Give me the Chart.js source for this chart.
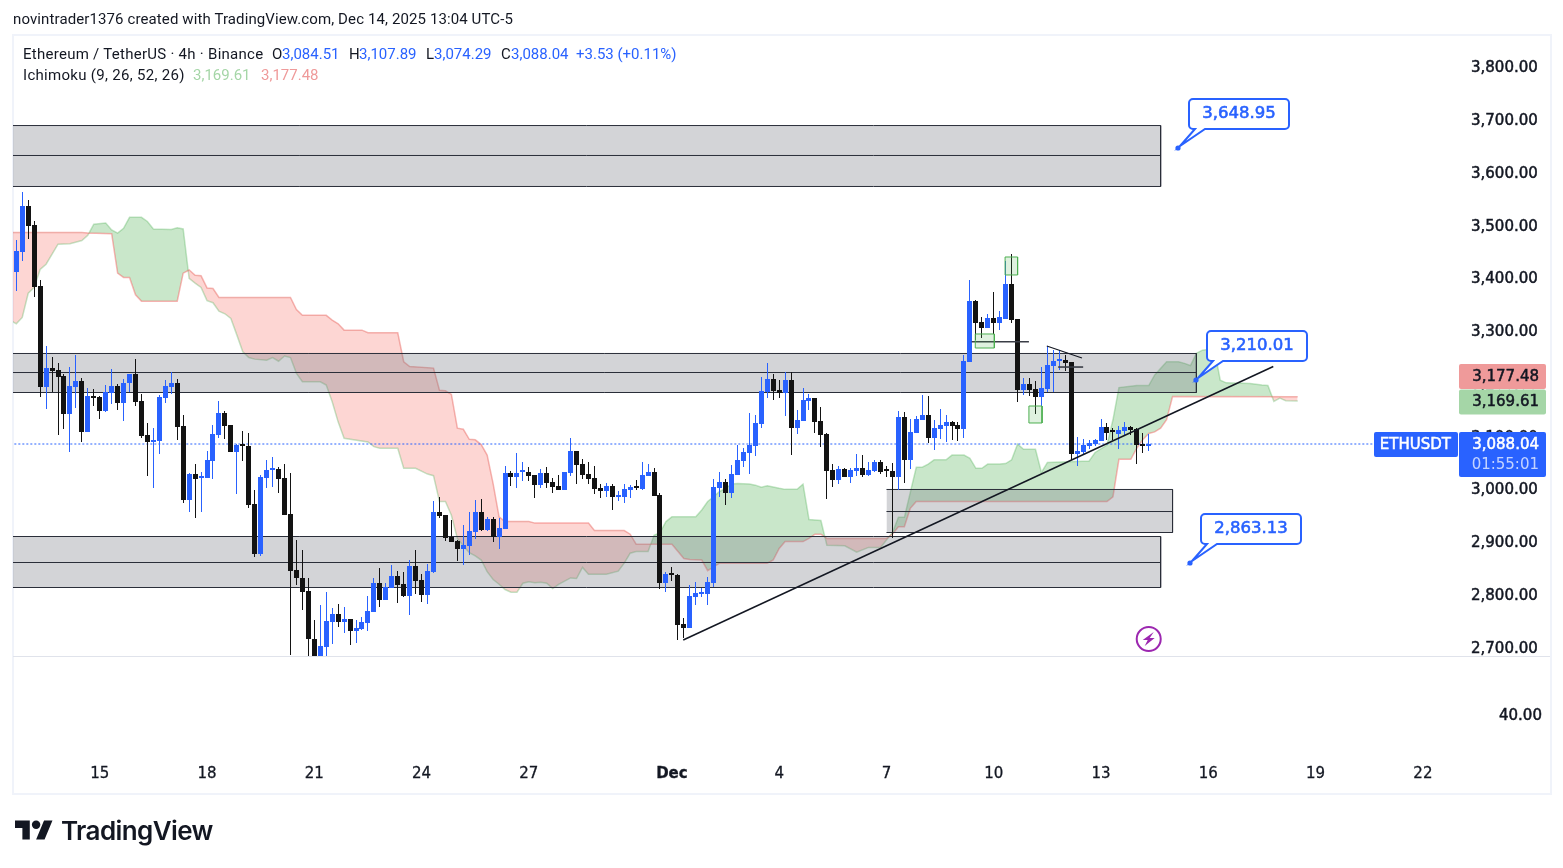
<!DOCTYPE html>
<html>
<head>
<meta charset="utf-8">
<title>ETHUSDT</title>
<script src="https://cdn.jsdelivr.net/npm/chart.js@4"></script>
<style>
  html, body { margin: 0; padding: 0; background: #fff; }
  body { width: 1563px; height: 868px; position: relative; overflow: hidden; font-family: Roboto, sans-serif; color: #131722; }
  .frame { position: absolute; left: 12px; top: 34px; width: 1536px; height: 757px; border: 2px solid #f0f3fa; }
  .sep { position: absolute; left: 13px; top: 656px; width: 1537px; height: 1px; background: #e0e3eb; }
  canvas { position: absolute; left: 0; top: 0; }
  .t { position: absolute; white-space: nowrap; font-size: 15px; line-height: 18px; }
  .blue { color: #2962ff; }
  .logo { position: absolute; left: 15px; top: 820px; }
  .brand { position: absolute; left: 61px; top: 813px; font: 600 26px/36px Inter, sans-serif; letter-spacing: -0.6px; }
</style>
</head>
<body>
<div class="frame"></div>
<div class="sep"></div>
<canvas id="chart" width="1563" height="868"></canvas>

<div class="t" style="left:13px;top:10px;letter-spacing:.11px">novintrader1376 created with TradingView.com, Dec 14, 2025 13:04 UTC-5</div>
<div class="t" style="left:23px;top:45px;letter-spacing:.27px">Ethereum / TetherUS · 4h · Binance</div>
<div class="t" style="left:272px;top:45px">O</div><div class="t blue" style="left:282px;top:45px">3,084.51</div>
<div class="t" style="left:349px;top:45px">H</div><div class="t blue" style="left:359px;top:45px">3,107.89</div>
<div class="t" style="left:426px;top:45px">L</div><div class="t blue" style="left:434px;top:45px">3,074.29</div>
<div class="t" style="left:501px;top:45px">C</div><div class="t blue" style="left:511px;top:45px">3,088.04</div>
<div class="t blue" style="left:576px;top:45px">+3.53 (+0.11%)</div>
<div class="t" style="left:23px;top:66px;letter-spacing:.3px">Ichimoku (9, 26, 52, 26)</div>
<div class="t" style="left:193px;top:66px;color:#a5d6a7">3,169.61</div>
<div class="t" style="left:261px;top:66px;color:#ef9a9a">3,177.48</div>

<svg class="logo" width="38" height="20" viewBox="0 4 36 18"><path fill="#131722" d="M14 22H7V11H0V4h14v18zM28 22h-8l7.5-18h8L28 22z"/><circle fill="#131722" cx="20" cy="8" r="4"/></svg>
<div class="brand">TradingView</div>

<script>
// 4h candles
const opens = [
  3415,3453,3539,3503,3388,3197,3232,3228,3217,3144,
  3197,3208,3111,3179,3177,3151,3185,3198,3166,3203,
  3221,3170,3105,3091,3094,3176,3197,3204,3122,2981,
  3031,3024,3024,3056,3106,3147,3124,3072,3086,3084,
  2974,2880,3024,3039,3041,3024,2955,2849,2834,2809,
  2719,2680,2704,2750,2766,2751,2756,2734,2737,2749,
  2770,2824,2793,2815,2838,2822,2800,2857,2830,2802,
  2845,2959,2953,2912,2904,2889,2895,2922,2959,2925,
  2946,2912,2927,3033,3025,3034,3035,3029,3010,3033,
  3016,3008,3001,3033,3075,3050,3031,3024,3005,2999,
  3008,2988,2987,3001,3006,3003,3027,3035,2991,2824,
  2841,2840,2747,2739,2798,2804,2804,2824,3005,3016,
  2995,3029,3056,3071,3084,3126,3187,3211,3190,3185,
  3209,3118,3132,3170,3175,3132,3107,3039,3020,3041,
  3025,3037,3043,3029,3037,3054,3037,3037,3025,3139,
  3058,3109,3134,3143,3099,3116,3122,3130,3124,3116,
  3244,3359,3319,3308,3327,3318,3326,3391,3325,3190,
  3202,3192,3177,3192,3236,3246,3247,3244,3069,3072,
  3084,3088,3094,3120,3113,3107,3113,3120,3116,3086,3084.51
];
const closes = [
  3454,3539,3502,3386,3197,3232,3227,3216,3144,3198,
  3208,3111,3179,3175,3151,3187,3198,3166,3204,3221,
  3168,3104,3091,3096,3177,3198,3204,3121,2981,3031,
  3022,3025,3058,3107,3147,3123,3072,3086,3084,2973,
  2880,3025,3039,3041,3022,2954,2848,2833,2808,2719,
  2680,2705,2752,2766,2750,2756,2734,2739,2750,2771,
  2824,2793,2817,2838,2821,2800,2857,2829,2802,2847,
  2959,2952,2910,2903,2889,2896,2923,2959,2925,2946,
  2912,2929,3033,3025,3033,3035,3027,3010,3033,3014,
  3006,3001,3035,3075,3048,3029,3022,3003,2999,3008,
  2987,2989,3003,3006,3005,3029,3035,2989,2824,2841,
  2840,2745,2739,2800,2805,2805,2826,3006,3016,2995,
  3031,3058,3073,3086,3128,3189,3211,3189,3185,3209,
  3118,3134,3171,3175,3130,3105,3037,3020,3041,3025,
  3039,3043,3029,3039,3054,3035,3036,3025,3139,3058,
  3111,3135,3143,3099,3118,3124,3130,3122,3116,3245,
  3359,3318,3308,3327,3318,3329,3391,3323,3190,3202,
  3190,3177,3194,3238,3245,3247,3242,3069,3075,3086,
  3090,3096,3120,3109,3111,3115,3120,3115,3086,3085,3088.04
];
const highs = [
  3475,3566,3551,3511,3399,3273,3253,3242,3221,3234,
  3257,3213,3194,3192,3179,3199,3230,3202,3211,3221,
  3249,3183,3128,3118,3181,3209,3225,3211,3143,3033,
  3050,3035,3075,3124,3170,3151,3124,3088,3113,3109,
  3001,3029,3058,3063,3044,3050,3033,2906,2887,2834,
  2754,2783,2807,2777,2785,2779,2756,2754,2760,2800,
  2834,2853,2824,2859,2847,2845,2868,2887,2841,2860,
  2980,2987,2953,2944,2906,2934,2959,2982,2984,2950,
  2950,2948,3046,3037,3071,3054,3044,3029,3041,3044,
  3024,3029,3035,3099,3075,3060,3054,3046,3012,3014,
  3012,2999,3012,3010,3020,3054,3050,3042,2995,2845,
  2855,2841,2758,2821,2826,2815,2836,3022,3035,3022,
  3048,3086,3080,3147,3143,3215,3242,3221,3209,3225,
  3225,3153,3194,3183,3175,3158,3109,3050,3046,3043,
  3043,3069,3067,3054,3058,3058,3046,3052,3151,3149,
  3135,3141,3181,3179,3134,3154,3143,3132,3130,3257,
  3399,3361,3329,3335,3376,3340,3435,3448,3326,3213,
  3213,3208,3234,3274,3266,3266,3257,3244,3101,3098,
  3096,3098,3135,3128,3118,3122,3130,3122,3118,3109,3107.89
];
const lows = [
  3379,3436,3477,3367,3178,3155,3187,3106,3117,3072,
  3157,3091,3111,3160,3135,3149,3164,3153,3132,3187,
  3160,3100,3028,3005,3070,3166,3182,3096,2977,2960,
  2948,2960,3024,3022,3100,3098,3072,2994,3055,2967,
  2874,2876,3005,3007,2996,2954,2688,2821,2774,2680,
  2670,2670,2686,2709,2741,2729,2706,2711,2735,2734,
  2770,2778,2793,2815,2787,2797,2764,2804,2789,2785,
  2844,2948,2905,2903,2867,2859,2878,2908,2924,2924,
  2903,2889,2927,3008,3005,3018,3018,2986,3005,3005,
  2995,3001,3001,3027,3012,3022,3012,2993,2986,2987,
  2963,2980,2976,2986,3001,3001,3027,2989,2813,2808,
  2828,2717,2721,2739,2783,2798,2783,2817,2988,2972,
  2986,3029,3044,3031,3065,3118,3175,3171,3175,3141,
  3067,3107,3132,3153,3109,3082,2984,3006,3012,3025,
  3014,3027,3025,3027,3035,3031,3025,2909,3001,3014,
  3041,3109,3134,3090,3077,3098,3092,3096,3094,3099,
  3244,3285,3289,3308,3297,3304,3326,3318,3168,3181,
  3179,3145,3160,3187,3187,3228,3226,3058,3046,3070,
  3079,3084,3094,3096,3096,3079,3103,3105,3050,3071,3074.29
];

// Ichimoku cloud: bar number and price of each corner of the two span lines
const spanABars = [-1,0,1,2,3,4,5,7,9,11,12,13,15,16,17,18,19,21,22,23,26,27,28,29,30,31,32,33,34,35,36,37,38,39,40,42,43,44,45,46,47,48,51,52,53,54,55,59,60,61,64,65,67,69,70,71,72,73,74,75,76,77,78,79,80,81,82,83,84,85,86,87,88,89,90,91,92,93,94,95,96,99,101,102,103,104,106,107,108,109,110,114,115,116,117,118,119,120,121,123,124,125,126,128,129,131,132,133,135,136,139,141,143,145,147,148,149,151,152,153,154,156,157,159,160,161,162,163,165,166,167,168,169,171,172,173,180,181,183,184,185,188,190,191,193,195,196,197,198,199,201,202,203,207,209,210,211,212,213,215];
const spanAValues = [3323,3316,3328,3374,3385,3419,3429,3467,3468,3474,3484,3505,3507,3494,3488,3497,3518,3518,3510,3496,3495,3498,3496,3402,3393,3385,3360,3356,3340,3335,3326,3295,3263,3252,3249,3247,3252,3245,3255,3252,3222,3206,3206,3200,3168,3130,3099,3092,3083,3080,3080,3042,3042,3031,3028,2979,2979,2953,2909,2895,2882,2876,2868,2846,2831,2822,2812,2807,2807,2824,2827,2825,2826,2824,2814,2822,2828,2834,2833,2854,2841,2841,2847,2862,2881,2884,2884,2915,2920,2941,2950,2950,2963,2979,2988,2998,3004,3012,3013,3012,3010,3006,3009,3004,3002,3002,3012,2945,2943,2896,2895,2883,2892,2892,2920,2949,2949,3044,3044,3050,3058,3058,3067,3067,3061,3042,3042,3050,3050,3051,3058,3088,3078,3078,3034,3053,3056,3072,3086,3134,3195,3199,3199,3219,3244,3244,3241,3237,3260,3266,3269,3209,3204,3203,3200,3199,3169,3175,3170,3169.61];
const spanBBars = [-1,11,12,16,17,18,19,20,21,27,28,29,30,31,32,33,34,46,47,48,52,53,54,55,58,59,64,65,66,70,71,72,73,74,75,76,77,78,79,80,81,82,86,87,96,97,102,103,104,110,112,113,115,116,117,118,126,127,128,129,132,133,134,135,136,146,147,148,149,150,151,183,184,185,187,188,189,190,191,192,193,194,215];
const spanBValues = [3489,3489,3488,3487,3412,3404,3404,3371,3359,3359,3412,3418,3408,3407,3384,3383,3366,3366,3343,3332,3332,3323,3316,3304,3304,3299,3299,3244,3235,3232,3190,3189,3182,3118,3116,3097,3096,3087,3067,3013,2950,2941,2941,2938,2938,2924,2924,2917,2898,2898,2871,2869,2868,2848,2855,2862,2862,2868,2890,2903,2903,2909,2917,2917,2909,2909,2917,2931,2931,2966,2979,2979,2988,3059,3059,3080,3096,3108,3111,3118,3134,3178,3177.48];

// Grey supply and demand zones
const zoneNames = ['upper', 'middle', 'lower right', 'lower'];
const zoneStartBars = [-5, -5, 146, -5];
const zoneEndBars = [192, 198, 194, 192];
const zoneTops = [3692.0, 3259.7, 3001.8, 2912.6];
const zoneMids = [3635.2, 3223.6, 2960.0, 2863.3];
const zoneBottoms = [3576.4, 3185.7, 2920.2, 2815.9];

// Small green boxes
const boxStartBars = [160.9, 165.9, 169.9];
const boxEndBars = [164.1, 168.0, 172.1];
const boxTops = [3296.7, 3442.7, 3160.1];
const boxBottoms = [3270.1, 3408.6, 3127.9];

// Hand drawn lines: start bar, start price, end bar, end price
const lineStartBars = [111.9, 172.9, 160.3, 174.8];
const lineStartPrices = [2716.3, 3273.9, 3282, 3234];
const lineEndBars = [210.9, 178.8, 169.9, 179];
const lineEndPrices = [3235, 3251.1, 3282, 3234];
const lineWidths = [1.5, 1.2, 1.6, 1.6];

// Price callouts
const calloutBars = [194.9, 198.0, 196.9];
const calloutPrices = [3648.95, 3210.01, 2863.13];

const priceTicks = [2700,2800,2900,3000,3100,3200,3300,3400,3500,3600,3700,3800];
const lowerPaneTicks = [40];
const dateTickBars = [14,32,50,68,86,110,128,146,164,182,200,218,236];
const dateTickLabels = ['15','18','21','24','27','Dec','4','7','10','13','16','19','22'];

const lastPrice = 3088.04;
const cloudTop = 3177.48;
const cloudBottom = 3169.61;

const UP = '#2962ff';
const DOWN = '#131313';
const INK = '#131722';
const AXIS_FONT = '"DejaVu Sans", sans-serif';

const money = v => v.toLocaleString('en-US', {minimumFractionDigits: 2, maximumFractionDigits: 2});
const pts = (xs, ys) => xs.map((x, i) => ({x: x, y: ys[i]}));
const lineSet = (data, extra) => Object.assign({type: 'line', data: data, pointRadius: 0, borderWidth: 1, tension: 0, fill: false}, extra);

const datasets = [];
// cloud first so that index 1 is the fill target of index 0
datasets.push(lineSet(pts(spanABars, spanAValues), {
  label: 'Span A', borderColor: 'rgba(76,175,80,0.32)', borderWidth: 1.5,
  fill: {target: 1, above: 'rgba(76,175,80,0.3)', below: 'rgba(244,67,54,0.22)'}
}));
datasets.push(lineSet(pts(spanBBars, spanBValues), {label: 'Span B', borderColor: 'rgba(239,83,80,0.42)', borderWidth: 1.5}));

zoneNames.forEach((name, i) => {
  const x0 = zoneStartBars[i], x1 = zoneEndBars[i], top = zoneTops[i], bot = zoneBottoms[i];
  datasets.push(lineSet(pts([x0, x1], [top, top]), {label: name, borderWidth: 0, backgroundColor: 'rgba(120,123,134,0.33)', fill: {value: bot}}));
  datasets.push(lineSet(pts([x0, x1, x1, x0], [top, top, bot, bot]), {label: name + ' edge', borderColor: '#2a2e39'}));
  datasets.push(lineSet(pts([x0, x1], [zoneMids[i], zoneMids[i]]), {label: name + ' mid', borderColor: '#2a2e39'}));
});

datasets.push(lineSet(pts([-1, 227.8], [lastPrice, lastPrice]), {label: 'last', borderColor: UP, borderDash: [2, 2]}));

const candleColors = closes.map((c, i) => c >= opens[i] ? UP : DOWN);
datasets.push({
  type: 'bar', label: 'wicks', data: lows.map((l, i) => ({x: i, y: [l, highs[i]]})),
  backgroundColor: candleColors, barThickness: 1, grouped: false, inflateAmount: 0
});
datasets.push({
  type: 'bar', label: 'bodies', data: opens.map((o, i) => ({x: i, y: [o, closes[i]]})),
  backgroundColor: candleColors, barThickness: 5, minBarLength: 2, grouped: false, inflateAmount: 0
});

lineStartBars.forEach((b, i) => {
  datasets.push(lineSet(pts([b, lineEndBars[i]], [lineStartPrices[i], lineEndPrices[i]]), {label: 'line ' + i, borderColor: i > 1 ? '#3a3d46' : INK, borderWidth: lineWidths[i]}));
});
boxStartBars.forEach((b, i) => {
  const e = boxEndBars[i], t = boxTops[i], u = boxBottoms[i];
  datasets.push(lineSet(pts([b, e], [t, t]), {label: 'box ' + i, borderWidth: 0, backgroundColor: 'rgba(76,175,80,0.18)', fill: {value: u}}));
  datasets.push(lineSet(pts([b, e, e, b, b], [t, t, u, u, t]), {label: 'box edge ' + i, borderColor: '#4caf50'}));
});
datasets.forEach((d, i) => { d.order = datasets.length - i; });

// keeps candles on whole pixels, the way the original draws them
const snapBars = {
  id: 'snapBars',
  afterDatasetsUpdate(chart) {
    chart.getSortedVisibleDatasetMetas().filter(m => m.type === 'bar').forEach(m => {
      m.data.forEach(el => {
        el.x = Math.floor(el.x) + 0.5;
        el.y = Math.round(el.y);
        el.base = Math.round(el.base);
      });
    });
  }
};

function axisTag(ctx, x, y, w, h, color, text, textColor, textY) {
  ctx.fillStyle = color;
  ctx.beginPath();
  ctx.roundRect(x, y, w, h, 2);
  ctx.fill();
  ctx.fillStyle = textColor;
  ctx.strokeStyle = textColor;
  ctx.lineWidth = 0.5;
  ctx.fillText(text, x + w - 7, textY);
  ctx.strokeText(text, x + w - 7, textY);
}

const overlays = {
  id: 'overlays',
  afterDraw(chart) {
    const ctx = chart.ctx, xs = chart.scales.x, ys = chart.scales.y;
    ctx.save();

    // callouts
    calloutBars.forEach((bar, i) => {
      const px = Math.round(xs.getPixelForValue(bar)), py = Math.round(ys.getPixelForValue(calloutPrices[i]));
      const bx = px + 11, by = py - 49, w = 100, h = 30, r = 4;
      ctx.strokeStyle = UP; ctx.lineWidth = 2; ctx.fillStyle = '#fff';
      ctx.beginPath();
      ctx.moveTo(bx + r, by);
      ctx.arcTo(bx + w, by, bx + w, by + h, r);
      ctx.arcTo(bx + w, by + h, bx, by + h, r);
      ctx.lineTo(bx + 16, by + h);
      ctx.lineTo(px + 2, py - 2);
      ctx.lineTo(bx + 6, by + h);
      ctx.arcTo(bx, by + h, bx, by, r);
      ctx.arcTo(bx, by, bx + w, by, r);
      ctx.closePath();
      ctx.fill(); ctx.stroke();
      ctx.fillStyle = UP;
      ctx.beginPath(); ctx.arc(px, py, 2.6, 0, Math.PI * 2); ctx.fill();
      ctx.font = '16.5px ' + AXIS_FONT;
      ctx.textAlign = 'center'; ctx.textBaseline = 'middle';
      ctx.lineWidth = 0.6;
      ctx.fillText(money(calloutPrices[i]), bx + w / 2, by + h / 2);
      ctx.strokeText(money(calloutPrices[i]), bx + w / 2, by + h / 2);
    });

    // purple lightning mark
    const cx = xs.getPixelForValue(190), cy = 639;
    ctx.strokeStyle = '#9c27b0'; ctx.fillStyle = '#9c27b0'; ctx.lineWidth = 2;
    ctx.beginPath(); ctx.arc(cx, cy, 12, 0, Math.PI * 2); ctx.stroke();
    ctx.beginPath();
    ctx.moveTo(cx + 5, cy - 7); ctx.lineTo(cx - 6, cy + 1); ctx.lineTo(cx - 1, cy + 1);
    ctx.lineTo(cx - 4, cy + 7); ctx.lineTo(cx + 6, cy - 1); ctx.lineTo(cx + 1, cy - 1);
    ctx.closePath(); ctx.fill();

    // labels on the price axis
    ctx.font = '15px ' + AXIS_FONT;
    ctx.textAlign = 'right'; ctx.textBaseline = 'middle';
    axisTag(ctx, 1459, 364, 87, 25, '#ef9a9a', money(cloudTop), INK, 377);
    axisTag(ctx, 1459, 389.5, 87, 25, '#a5d6a7', money(cloudBottom), INK, 402);
    const ly = Math.round(ys.getPixelForValue(lastPrice));
    axisTag(ctx, 1459, ly - 12, 87, 45, UP, money(lastPrice), '#fff', ly + 1);
    ctx.fillStyle = 'rgba(255,255,255,0.72)';
    ctx.fillText('01:55:01', 1539, ly + 21);
    axisTag(ctx, 1374, ly - 12, 84, 25, UP, 'ETHUSDT', '#fff', ly + 1);
    ctx.restore();
  }
};

// the scales should not shrink the plot to make room for their outer labels
const noPad = s => { s.paddingTop = 0; s.paddingBottom = 0; s.paddingLeft = 0; s.paddingRight = 0; };

new Chart(document.getElementById('chart'), {
  type: 'bar',
  data: {datasets: datasets},
  plugins: [snapBars, overlays],
  options: {
    responsive: false,
    animation: false,
    events: [],
    layout: {padding: {left: 13, top: 35, right: 13, bottom: 75}},
    plugins: {legend: {display: false}, tooltip: {enabled: false}},
    scales: {
      x: {
        type: 'linear', offset: false, min: -0.5537, max: 242.06,
        grid: {display: false, offset: false, drawTicks: false}, border: {display: false},
        afterBuildTicks: s => { s.ticks = dateTickBars.map(v => ({value: v})); },
        afterFit: s => { s.height = 31; noPad(s); },
        ticks: {
          padding: 3, maxRotation: 0, autoSkip: false, color: INK, textStrokeColor: INK, textStrokeWidth: 0.3,
          font: c => ({family: AXIS_FONT, size: 15, weight: c.tick && c.tick.value === 110 ? 'bold' : 'normal'}),
          callback: v => dateTickLabels[dateTickBars.indexOf(v)]
        }
      },
      y: {
        type: 'linear', position: 'right', stack: 'panes', stackWeight: 621,
        min: 2686, max: 3863.7,
        grid: {display: false, drawTicks: false}, border: {display: false},
        afterBuildTicks: s => { s.ticks = priceTicks.map(v => ({value: v})); },
        afterFit: s => { s.width = 91; noPad(s); },
        ticks: {padding: 12, color: INK, textStrokeColor: INK, textStrokeWidth: 0.5, font: {family: AXIS_FONT, size: 15}, callback: v => money(v)}
      },
      lower: {
        type: 'linear', position: 'right', stack: 'panes', stackWeight: 106,
        min: 0, max: 92,
        grid: {display: false, drawTicks: false}, border: {display: false},
        afterBuildTicks: s => { s.ticks = lowerPaneTicks.map(v => ({value: v})); },
        afterFit: s => { s.width = 91; noPad(s); },
        ticks: {padding: 40, color: INK, textStrokeColor: INK, textStrokeWidth: 0.5, font: {family: AXIS_FONT, size: 15}, callback: v => money(v)}
      }
    }
  }
});
</script>
</body>
</html>
